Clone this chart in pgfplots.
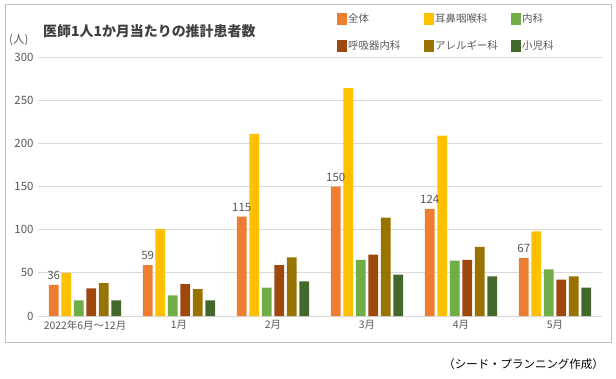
\documentclass[border=0pt]{standalone}
\usepackage{fontspec}
\setmainfont{Noto Sans CJK JP}
\usepackage{pgfplots}
\pgfplotsset{compat=1.18}
\definecolor{cA}{HTML}{ED7D31}
\definecolor{cB}{HTML}{FFC000}
\definecolor{cC}{HTML}{70AD47}
\definecolor{cD}{HTML}{9E480E}
\definecolor{cE}{HTML}{997300}
\definecolor{cF}{HTML}{43682B}
\definecolor{txt}{HTML}{595959}
\definecolor{ttl}{HTML}{404040}
\definecolor{gridc}{HTML}{D9D9D9}
\definecolor{framec}{HTML}{BFBFBF}
\begin{document}
\begin{tikzpicture}[x=1bp,y=1bp]
\path[use as bounding box] (0,0) rectangle (616,378);
\draw[color=framec, line width=0.8bp] (5,36) rectangle (611,374);
\begin{axis}[
  at={(38bp,62bp)}, anchor=south west, scale only axis,
  width=564bp, height=259bp,
  xmin=-0.5, xmax=5.5, ymin=0, ymax=300,
  ytick={0,50,100,150,200,250,300},
  xtick={0,1,2,3,4,5},
  xticklabels={2022年6月～12月,1月,2月,3月,4月,5月},
  ybar, bar width=0.106,
  axis line style={draw=none},
  major tick length=0pt,
  ymajorgrids, grid style={color=gridc, line width=0.8bp},
  /pgf/number format/assume math mode=true,
  yticklabel style={font=\fontsize{11.5}{13}\selectfont, text=txt, xshift=-1bp},
  xticklabel style={font=\fontsize{10.5}{12}\selectfont, text=txt, yshift=-1bp},
  legend columns=3,
  legend cell align=left,
  legend style={at={(0.530,1.17)}, anchor=north west, draw=none, fill=none,
    font=\fontsize{10.5}{12}\selectfont, text=txt, inner sep=0pt,
    row sep=14bp,
    nodes={inner sep=1bp}},
  legend image code/.code={\fill[#1] (0bp,-6bp) rectangle (10bp,6bp);},
]
\addplot[fill=cA, draw=none, bar shift=-0.3325,
  nodes near coords,
  nodes near coords style={font=\fontsize{11.5}{13}\selectfont, text=txt, anchor=south, yshift=1.5bp}]
  coordinates {(0,36) (1,59) (2,115) (3,150) (4,124) (5,67)};
\addlegendentry{\makebox[75bp][l]{全体}}
\addplot[fill=cB, draw=none, bar shift=-0.1995]
  coordinates {(0,50) (1,101) (2,211) (3,264) (4,209) (5,98)};
\addlegendentry{\makebox[75bp][l]{耳鼻咽喉科}}
\addplot[fill=cC, draw=none, bar shift=-0.0665]
  coordinates {(0,18) (1,24) (2,33) (3,65) (4,64) (5,54)};
\addlegendentry{内科}
\addplot[fill=cD, draw=none, bar shift=0.0665]
  coordinates {(0,32) (1,37) (2,59) (3,71) (4,65) (5,42)};
\addlegendentry{\makebox[75bp][l]{呼吸器内科}}
\addplot[fill=cE, draw=none, bar shift=0.1995]
  coordinates {(0,38) (1,31) (2,68) (3,114) (4,80) (5,46)};
\addlegendentry{\makebox[75bp][l]{アレルギー科}}
\addplot[fill=cF, draw=none, bar shift=0.3325]
  coordinates {(0,18) (1,18) (2,40) (3,48) (4,46) (5,33)};
\addlegendentry{小児科}
\end{axis}
\node[anchor=west, font=\bfseries\fontsize{14}{16}\selectfont, text=ttl, inner sep=0pt] at (43,347) {医師1人1か月当たりの推計患者数};
\node[anchor=west, font=\fontsize{11.5}{13}\selectfont, text=txt, inner sep=0pt] at (9,338) {(人)};
\node[anchor=east, font=\fontsize{11.5}{13}\selectfont, text=black, inner sep=0pt] at (604,14) {（シード・プランニング作成）};
\end{tikzpicture}
\end{document}
